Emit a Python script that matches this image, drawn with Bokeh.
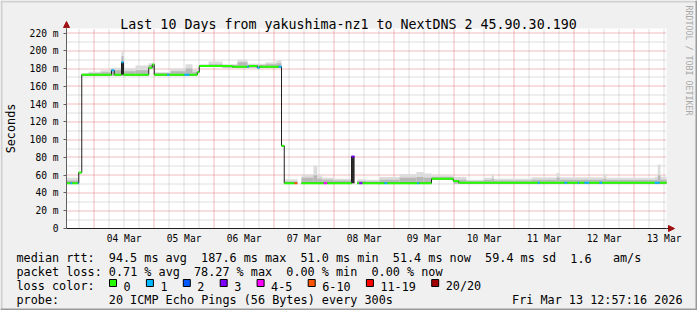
import re
import math
from datetime import datetime, timedelta
from bokeh.plotting import figure
from bokeh.models import Range1d, FixedTicker, Arrow, NormalHead
from bokeh.core.properties import value
from bokeh.embed import file_html
from bokeh.resources import INLINE

# ------------------------------------------------------------------ data
END_TIME = datetime(2026, 3, 13, 12, 57, 16)
SPAN_HOURS = 240.0
TITLE = "Last 10 Days from yakushima-nz1 to NextDNS 2 45.90.30.190"
Y_LABEL = "Seconds"
WATERMARK = "RRDTOOL / TOBI OETIKER"
Y_MAX = 225.1
Y_TICKS = [0, 20, 40, 60, 80, 100, 120, 140, 160, 180, 200, 220]
Y_TICK_LABELS = ["0", "20 m", "40 m", "60 m", "80 m", "100 m", "120 m",
                 "140 m", "160 m", "180 m", "200 m", "220 m"]
X_TICK_LABELS = ["04 Mar", "05 Mar", "06 Mar", "07 Mar", "08 Mar",
                 "09 Mar", "10 Mar", "11 Mar", "12 Mar", "13 Mar"]

# median rtt (ms) as steps: start hour since graph start, value, lost pings
MED_T = [0.0, 1.6, 2.3, 4.5, 4.9, 6.1, 18.0, 19.1, 22.0, 22.8, 32.9, 34.3, 35.1,
         40.3, 41.2, 47.2, 49.2, 52.3, 53.1, 66.3, 72.3, 72.9, 76.3, 77.2, 84.9,
         86.0, 87.1, 91.2, 92.3, 94.0, 102.9, 104.3, 114.0, 115.2, 116.3, 117.1,
         118.4, 127.2, 128.3, 140.3, 141.1, 146.0, 154.7, 156.9, 188.5, 189.3,
         199.2, 200.3, 204.5, 205.1, 207.2, 209.1, 213.2, 214.3, 235.3, 237.3]
MED_V = [51, 51, 51, 51, 63, 173, 178, 173, 187, 173, 181, 184.5, 173,
         173, 173, 173, 173, 176, 183, 182, 182, 183, 181, 182, 182,
         93, 51, 51, None, 51, 51, 51, 81, None, 51, 51,
         51, 51, 51, 51, 51, 56, 53.5, 51.5, 51.5, 51.5,
         51.5, 51.5, 51.5, 51.5, 51.5, 51.5, 51.5, 51.5, 51.5, 51.5]
MED_LOSS = [0, 1, 0, 1, 0, 0, 1, 0, 1, 0, 0, 0, 0,
            1, 0, 1, 0, 0, 0, 0, 1, 0, 1, 0, 1,
            0, 0, 7, 0, 0, 4, 0, 3, 0, 0, 3,
            0, 1, 0, 1, 0, 0, 0, 0, 1, 0,
            1, 0, 1, 0, 1, 0, 1, 0, 1, 0]

# smoke (spread of the 20 pings, ms): start hour, bottom, dense part top, top
SMOKE_T = [0.0, 4.9, 6.1, 8.8, 13.6, 17.6, 22.0, 22.8, 27.6, 32.8, 35.1, 41.6,
           47.6, 50.4, 52.3, 53.1, 56.8, 62.4, 68.4, 72.4, 79.6, 84.0, 86.0,
           87.1, 92.4, 94.0, 98.8, 100.3, 102.3, 106.8, 114.0, 115.2, 116.3,
           120.0, 125.2, 133.2, 140.0, 142.8, 146.0, 154.8, 160.0, 166.8, 170.0,
           171.0, 185.9, 196.0, 197.3, 214.7, 216.0, 235.3, 236.5, 237.6]
SMOKE_LO = [50, 62, 172, 172, 172, 172, 172, 172, 172, 180, 172, 172,
            172, 172, 175, 182, 182, 181, 181, 181, 181, 181, 92,
            50, None, 50, 50, 50, 50, 50, 51, None, 50,
            50, 50, 50, 50, 50, 55, 50.5, 50.5, 50.5, 50.5,
            50.5, 50.5, 50.5, 50.5, 50.5, 50.5, 50.5, 50.5, 50.5]
SMOKE_MID = [54, 63, 174, 175, 176, 178, 194, 177, 178, 184, 175, 177,
             180, 176, 176, 184, 185, 184, 187, 184, 185, 186, 93,
             53, None, 57, 60, 56, 55, 54, 81, None, 53.5,
             53, 55, 57, 58, 57, 58, 55, 53.5, 54.5, 56,
             54, 55, 57, 55, 56, 54.5, 55, 60, 55]
SMOKE_HI = [57, 64, 175, 176.5, 178, 181, 200, 180, 183.5, 186, 176, 180,
            185, 179, 178, 185, 188, 185, 190, 185.5, 187, 189.5, 94,
            55.5, None, 60.5, 71, 60, 57, 56, 81, None, 55.5,
            55, 58, 61, 63.5, 62, 60, 58, 55, 57, 61,
            56, 57.7, 62.4, 57.7, 61, 57, 58.3, 72, 58.3]
CORE_T0 = [22.0, 114.0]
CORE_T1 = [22.8, 115.2]
CORE_LO = [173, 51]
CORE_HI = [187, 81]

LOSS_LABELS = ["0", "1", "2", "3", "4-5", "6-10", "11-19", "20/20"]
LOSS_COLORS = ["#26ff00", "#00b8ff", "#0059ff", "#7e00ff",
               "#ff00ff", "#ff5500", "#ff0000", "#a00000"]

ROW_RTT = "median rtt:  94.5 ms avg  187.6 ms max  51.0 ms min  51.4 ms now  59.4 ms sd  1.6   am/s"
ROW_LOSS = "packet loss: 0.71 % avg  78.27 % max  0.00 % min  0.00 % now"
ROW_COLOR = "loss color:"
ROW_PROBE = "probe:       20 ICMP Echo Pings (56 Bytes) every 300s"
STAMP = "Fri Mar 13 12:57:16 2026"

# ------------------------------------------------------------------ layout
W, H = 697, 310
FL, FT, FW, FH = 66, 28, 600, 200       # plot area in canvas px
FB = FT + FH
MONO = "DejaVu Sans Mono"
CHAR_W = 7.1
LEG_FS = "11.8px"
PX_PER_H = FW / SPAN_HOURS
MS_PER_PX = Y_MAX / FH


def X(cx):
    """canvas px -> hours"""
    return (cx - FL) / PX_PER_H


def Y(cy):
    """canvas px -> ms"""
    return (FB - cy) * MS_PER_PX


def snap_x(t):
    """move a grid time onto a pixel centre so that the dotted line stays crisp"""
    return X(math.floor(FL + t * PX_PER_H) + 0.5)


def snap_y(v):
    return Y(math.floor(FB - v / MS_PER_PX) + 0.5)


START_TIME = END_TIME - timedelta(hours=SPAN_HOURS)


def hours(dt):
    return (dt - START_TIME).total_seconds() / 3600.0


first_mid = datetime(END_TIME.year, 3, 4)
midnights = [round(hours(first_mid + timedelta(days=k)), 4) for k in range(10)]
noons = [round(m + 12, 4) for m in midnights]
six_h = [round(hours(first_mid + timedelta(hours=6 * k)), 4) for k in range(-2, 44)]
six_h = [h for h in six_h if 0 < h < SPAN_HOURS and h not in midnights]
y_minor = [v + 10 for v in Y_TICKS if v + 10 < Y_MAX]


def loss_class(n):
    if n <= 3:
        return n
    if n <= 5:
        return 4
    if n <= 10:
        return 5
    if n <= 19:
        return 6
    return 7


p = figure(width=W, height=H, output_backend="svg", toolbar_location=None,
           x_range=Range1d(X(0), X(W)), y_range=Range1d(Y(H), Y(0)),
           min_border=0, background_fill_color="#f0f0f0",
           border_fill_color="#f0f0f0", outline_line_color=None)
p.grid.visible = False

# plot canvas
p.quad(left=[0], right=[SPAN_HOURS], bottom=[0], top=[Y_MAX],
       fill_color="white", line_color=None)

# grid (dotted)
GRID_MIN = "#bdbdbd"
GRID_MAJ = "#e07a7a"
gx_min = [snap_x(t) for t in six_h]
gx_maj = [snap_x(t) for t in midnights]
gy_min = [snap_y(v) for v in y_minor]
gy_maj = [snap_y(v) for v in Y_TICKS[1:]]
p.segment(x0=gx_min, x1=gx_min, y0=[0] * len(gx_min), y1=[Y_MAX] * len(gx_min),
          line_color=GRID_MIN, line_dash="1 1", line_width=1)
p.segment(x0=[0] * len(gy_min), x1=[SPAN_HOURS] * len(gy_min), y0=gy_min, y1=gy_min,
          line_color=GRID_MIN, line_dash="1 1", line_width=1)
p.segment(x0=gx_maj, x1=gx_maj, y0=[0] * len(gx_maj), y1=[Y_MAX] * len(gx_maj),
          line_color=GRID_MAJ, line_dash="1 1", line_width=1)
p.segment(x0=[0] * len(gy_maj), x1=[SPAN_HOURS] * len(gy_maj), y0=gy_maj, y1=gy_maj,
          line_color=GRID_MAJ, line_dash="1 1", line_width=1)

# axes (drawn at the data origin)
p.xaxis.fixed_location = 0
p.yaxis.fixed_location = 0
p.xaxis.bounds = (0, SPAN_HOURS)
p.yaxis.bounds = (0, Y_MAX)
p.xaxis.ticker = FixedTicker(ticks=noons)
p.xaxis.major_label_overrides = {n: s for n, s in zip(noons, X_TICK_LABELS)}
p.xaxis.major_tick_out = 0
p.xaxis.major_tick_in = 0
p.xaxis.minor_tick_out = 0
p.xaxis.minor_tick_in = 0
p.xaxis.axis_line_color = "#202020"
p.xaxis.major_label_standoff = 4
p.yaxis.ticker = FixedTicker(ticks=Y_TICKS)
p.yaxis.major_label_overrides = {v: s for v, s in zip(Y_TICKS, Y_TICK_LABELS)}
p.yaxis.major_tick_out = 3
p.yaxis.major_tick_in = 0
p.yaxis.minor_tick_out = 0
p.yaxis.minor_tick_in = 0
p.yaxis.major_tick_line_color = "#606060"
p.yaxis.axis_line_color = "#606060"
p.yaxis.major_label_standoff = 5
for ax in (p.xaxis, p.yaxis):
    ax.major_label_text_font = MONO
    ax.major_label_text_font_size = "9.6px"
    ax.major_label_text_color = "#000000"


def ends(ts):
    return ts[1:] + [SPAN_HOURS]


# smoke
sm = [(a, b, lo, mid, hi) for a, b, lo, mid, hi in
      zip(SMOKE_T, ends(SMOKE_T), SMOKE_LO, SMOKE_MID, SMOKE_HI) if lo is not None]
p.quad(left=[s[0] for s in sm], right=[s[1] for s in sm],
       bottom=[s[2] for s in sm], top=[s[4] for s in sm],
       fill_color="#dcdcdc", line_color=None)
p.quad(left=[s[0] for s in sm], right=[s[1] for s in sm],
       bottom=[s[2] for s in sm], top=[s[3] for s in sm],
       fill_color="#b8b8b8", line_color=None)
p.quad(left=CORE_T0, right=CORE_T1, bottom=CORE_LO, top=CORE_HI,
       fill_color="#2a2a2a", line_color=None)

# median: thin dark step line, then loss-coloured steps
med_end = ends(MED_T)
hx0, hx1, hy = [], [], []
vx, vy0, vy1 = [], [], []
for i, (a, b, v) in enumerate(zip(MED_T, med_end, MED_V)):
    if v is None:
        continue
    hx0.append(a); hx1.append(b); hy.append(v)
    if i + 1 < len(MED_V) and MED_V[i + 1] is not None and MED_V[i + 1] != v:
        vx.append(b); vy0.append(v); vy1.append(MED_V[i + 1])
p.segment(x0=hx0, y0=hy, x1=hx1, y1=hy, line_color="#202020", line_width=1)
p.segment(x0=vx, y0=vy0, x1=vx, y1=vy1, line_color="#202020", line_width=1)
cx0, cx1, cy, cc = [], [], [], []
for a, b, v, n in zip(MED_T, med_end, MED_V, MED_LOSS):
    if v is None:
        continue
    cx0.append(a); cx1.append(b); cy.append(v)
    cc.append(LOSS_COLORS[loss_class(n)])
p.segment(x0=cx0, y0=cy, x1=cx1, y1=cy, line_color=cc, line_width=2)

# axis arrows
p.add_layout(Arrow(x_start=0, y_start=Y_MAX, x_end=0, y_end=Y(21),
                   line_color="#606060", line_width=1,
                   end=NormalHead(size=6, fill_color="#a01010", line_color="#a01010")))
p.add_layout(Arrow(x_start=SPAN_HOURS, y_start=0, x_end=X(674), y_end=0,
                   line_color="#202020", line_width=1,
                   end=NormalHead(size=6, fill_color="#a01010", line_color="#a01010")))


# ------------------------------------------------------------------ texts
def put(cx_list, cy_list, texts, size=LEG_FS, align="left", baseline="alphabetic",
        angle=0.0, color="#000000"):
    p.text(x=[X(c) for c in cx_list], y=[Y(c) for c in cy_list], text=texts,
           text_font=value(MONO), text_font_size=value(size),
           text_align=align, text_baseline=baseline, angle=angle,
           text_color=color)


def put_row(s, cy_, x0=16):
    xs, ts = [], []
    for m in re.finditer(r"\S+(?: \S+)*", s):
        xs.append(x0 + m.start() * CHAR_W)
        ts.append(m.group(0))
    put(xs, [cy_] * len(xs), ts)


put([348], [24], [TITLE], size="13.3px", align="center")
put([10], [128], [Y_LABEL], align="center", baseline="middle", angle=math.pi / 2)
put([688], [5], [WATERMARK], size="8.3px", align="left", baseline="middle",
    angle=-math.pi / 2, color="#a8a8a8")

put_row(ROW_RTT, 257.5)
put_row(ROW_LOSS, 271.5)
put_row(ROW_COLOR, 285.5)
put_row(ROW_PROBE, 299.5)
put([682], [299.5], [STAMP], align="right")

# loss colour legend boxes
bx, box_l, lab_x = 109.0, [], []
for lab in LOSS_LABELS:
    box_l.append(bx)
    lab_x.append(bx + 14)
    bx += 14 + len(lab) * CHAR_W + 15.8
p.quad(left=[X(b) for b in box_l], right=[X(b + 7) for b in box_l],
       top=[Y(279)] * len(box_l), bottom=[Y(286)] * len(box_l),
       fill_color=LOSS_COLORS, line_color="#000000", line_width=1)
put(lab_x, [285.5] * len(lab_x), LOSS_LABELS)

# 3D frame of the image
frame_l = [0, 0, 0, W - 2]
frame_r = [W, 2, W, W]
frame_t = [0, 0, H - 2, 0]
frame_b = [2, H, H, H]
p.quad(left=[X(v) for v in frame_l], right=[X(v) for v in frame_r],
       top=[Y(v) for v in frame_t], bottom=[Y(v) for v in frame_b],
       fill_color=["#d0d0d0", "#d0d0d0", "#9a9a9a", "#9a9a9a"], line_color=None)

open("out.html", "w").write(file_html(p, INLINE))
